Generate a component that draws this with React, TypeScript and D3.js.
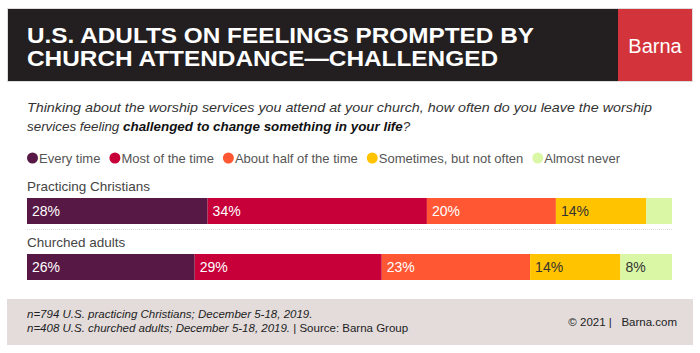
import React from "react";
import { select, scaleLinear, scaleBand, scaleOrdinal } from "d3";

const categories = ["Practicing Christians", "Churched adults"];
const series = [
  "Every time",
  "Most of the time",
  "About half of the time",
  "Sometimes, but not often",
  "Almost never",
];
const practicingValues = [28, 34, 20, 14, 4];
const churchedValues = [26, 29, 23, 14, 8];
const colors = ["#581845", "#c70039", "#ff5733", "#ffc300", "#daf7a6"];
const labelColors = ["#fff", "#fff", "#fff", "#333", "#333"];

const W = 700;
const H = 353;
const font = "'Liberation Sans', Arial, Helvetica, sans-serif";

export default function App() {
  const svgRef = React.useRef<SVGSVGElement>(null);

  React.useEffect(() => {
    const svg = select(svgRef.current);
    svg.selectAll("*").remove();

    // header
    svg.append("rect").attr("x", 7.5).attr("y", 8.5).attr("width", 685).attr("height", 73)
      .attr("fill", "#fff").attr("stroke", "#ddd");
    svg.append("rect").attr("x", 8).attr("y", 9).attr("width", 610).attr("height", 72).attr("fill", "#231f20");
    svg.append("rect").attr("x", 618).attr("y", 9).attr("width", 74).attr("height", 72).attr("fill", "#d3333a");

    const title = svg.append("g").attr("font-family", font).attr("font-weight", "bold")
      .attr("font-size", 22.5).attr("fill", "#fff");
    title.append("text").attr("x", 27).attr("y", 42.5).attr("textLength", 507)
      .attr("lengthAdjust", "spacingAndGlyphs").text("U.S. ADULTS ON FEELINGS PROMPTED BY");
    title.append("text").attr("x", 27).attr("y", 66).attr("textLength", 471)
      .attr("lengthAdjust", "spacingAndGlyphs").text("CHURCH ATTENDANCE\u2014CHALLENGED");

    svg.append("text").attr("x", 655).attr("y", 53).attr("text-anchor", "middle")
      .attr("font-family", font).attr("font-size", 20).attr("fill", "#fff").text("Barna");

    // question
    const q = svg.append("g").attr("font-family", font).attr("font-style", "italic")
      .attr("font-size", 13.4).attr("fill", "#333");
    q.append("text").attr("x", 27).attr("y", 112).attr("textLength", 625)
      .attr("lengthAdjust", "spacingAndGlyphs")
      .text("Thinking about the worship services you attend at your church, how often do you leave the worship");
    const q2 = q.append("text").attr("x", 27).attr("y", 131);
    q2.append("tspan").text("services feeling ");
    q2.append("tspan").attr("font-weight", "bold").attr("fill", "#111")
      .text("challenged to change something in your life");
    q2.append("tspan").text("?");

    // legend
    const color = scaleOrdinal<string, string>().domain(series).range(colors);
    const legend = svg.append("g").attr("font-family", font).attr("font-size", 13).attr("fill", "#555");
    let lx = 27;
    series.forEach((s) => {
      legend.append("circle").attr("cx", lx + 5.5).attr("cy", 158).attr("r", 5.5).attr("fill", color(s));
      const t = legend.append("text").attr("x", lx + 12).attr("y", 162.5).text(s);
      const w = (t.node() as SVGTextElement).getComputedTextLength();
      lx += 12 + w + 9;
    });

    // bars
    const x = scaleLinear().domain([0, 100]).range([27, 672]);
    const y = scaleBand().domain(categories).range([182, 294]);
    const rows = [practicingValues, churchedValues];

    const chart = svg.append("g").attr("font-family", font);
    categories.forEach((c, ri) => {
      const top = y(c)!;
      chart.append("text").attr("x", 27).attr("y", top + 9).attr("font-size", 13.5)
        .attr("fill", "#444").text(c);
      let acc = 0;
      const segs = rows[ri].map((v, i) => {
        const s = { v, i, x0: acc, x1: acc + v };
        acc += v;
        return s;
      });
      const g = chart.append("g");
      g.selectAll("rect").data(segs).join("rect")
        .attr("x", (d) => x(d.x0))
        .attr("y", top + 16)
        .attr("width", (d) => x(d.x1) - x(d.x0))
        .attr("height", 26)
        .attr("fill", (d) => color(series[d.i]));
      g.selectAll("text").data(segs.filter((d) => d.v >= 5)).join("text")
        .attr("x", (d) => x(d.x0) + 5)
        .attr("y", top + 34)
        .attr("font-size", 14)
        .attr("fill", (d) => labelColors[d.i])
        .text((d) => `${d.v}%`);
      if (ri === 0) {
        chart.append("line").attr("x1", 27).attr("x2", 672).attr("y1", top + 47.5).attr("y2", top + 47.5)
          .attr("stroke", "#ddd").attr("stroke-dasharray", "1,1");
      }
    });

    // footer
    svg.append("rect").attr("x", 7).attr("y", 299).attr("width", 686).attr("height", 46).attr("fill", "#e3dcdb");
    const f = svg.append("g").attr("font-family", font).attr("font-size", 11.5).attr("fill", "#222");
    f.append("text").attr("x", 27).attr("y", 318).attr("font-style", "italic")
      .text("n=794 U.S. practicing Christians; December 5-18, 2019.");
    const f2 = f.append("text").attr("x", 27).attr("y", 332);
    f2.append("tspan").attr("font-style", "italic").text("n=408 U.S. churched adults; December 5-18, 2019.");
    f2.append("tspan").text(" | Source: Barna Group");
    f.append("text").attr("x", 677).attr("y", 326).attr("text-anchor", "end")
      .attr("xml:space", "preserve").text("\u00a9 2021 |   Barna.com");
  }, []);

  return (
    <svg
      ref={svgRef}
      width={W}
      height={H}
      style={{ position: "absolute", left: 0, top: 0, background: "#fff" }}
    />
  );
}
